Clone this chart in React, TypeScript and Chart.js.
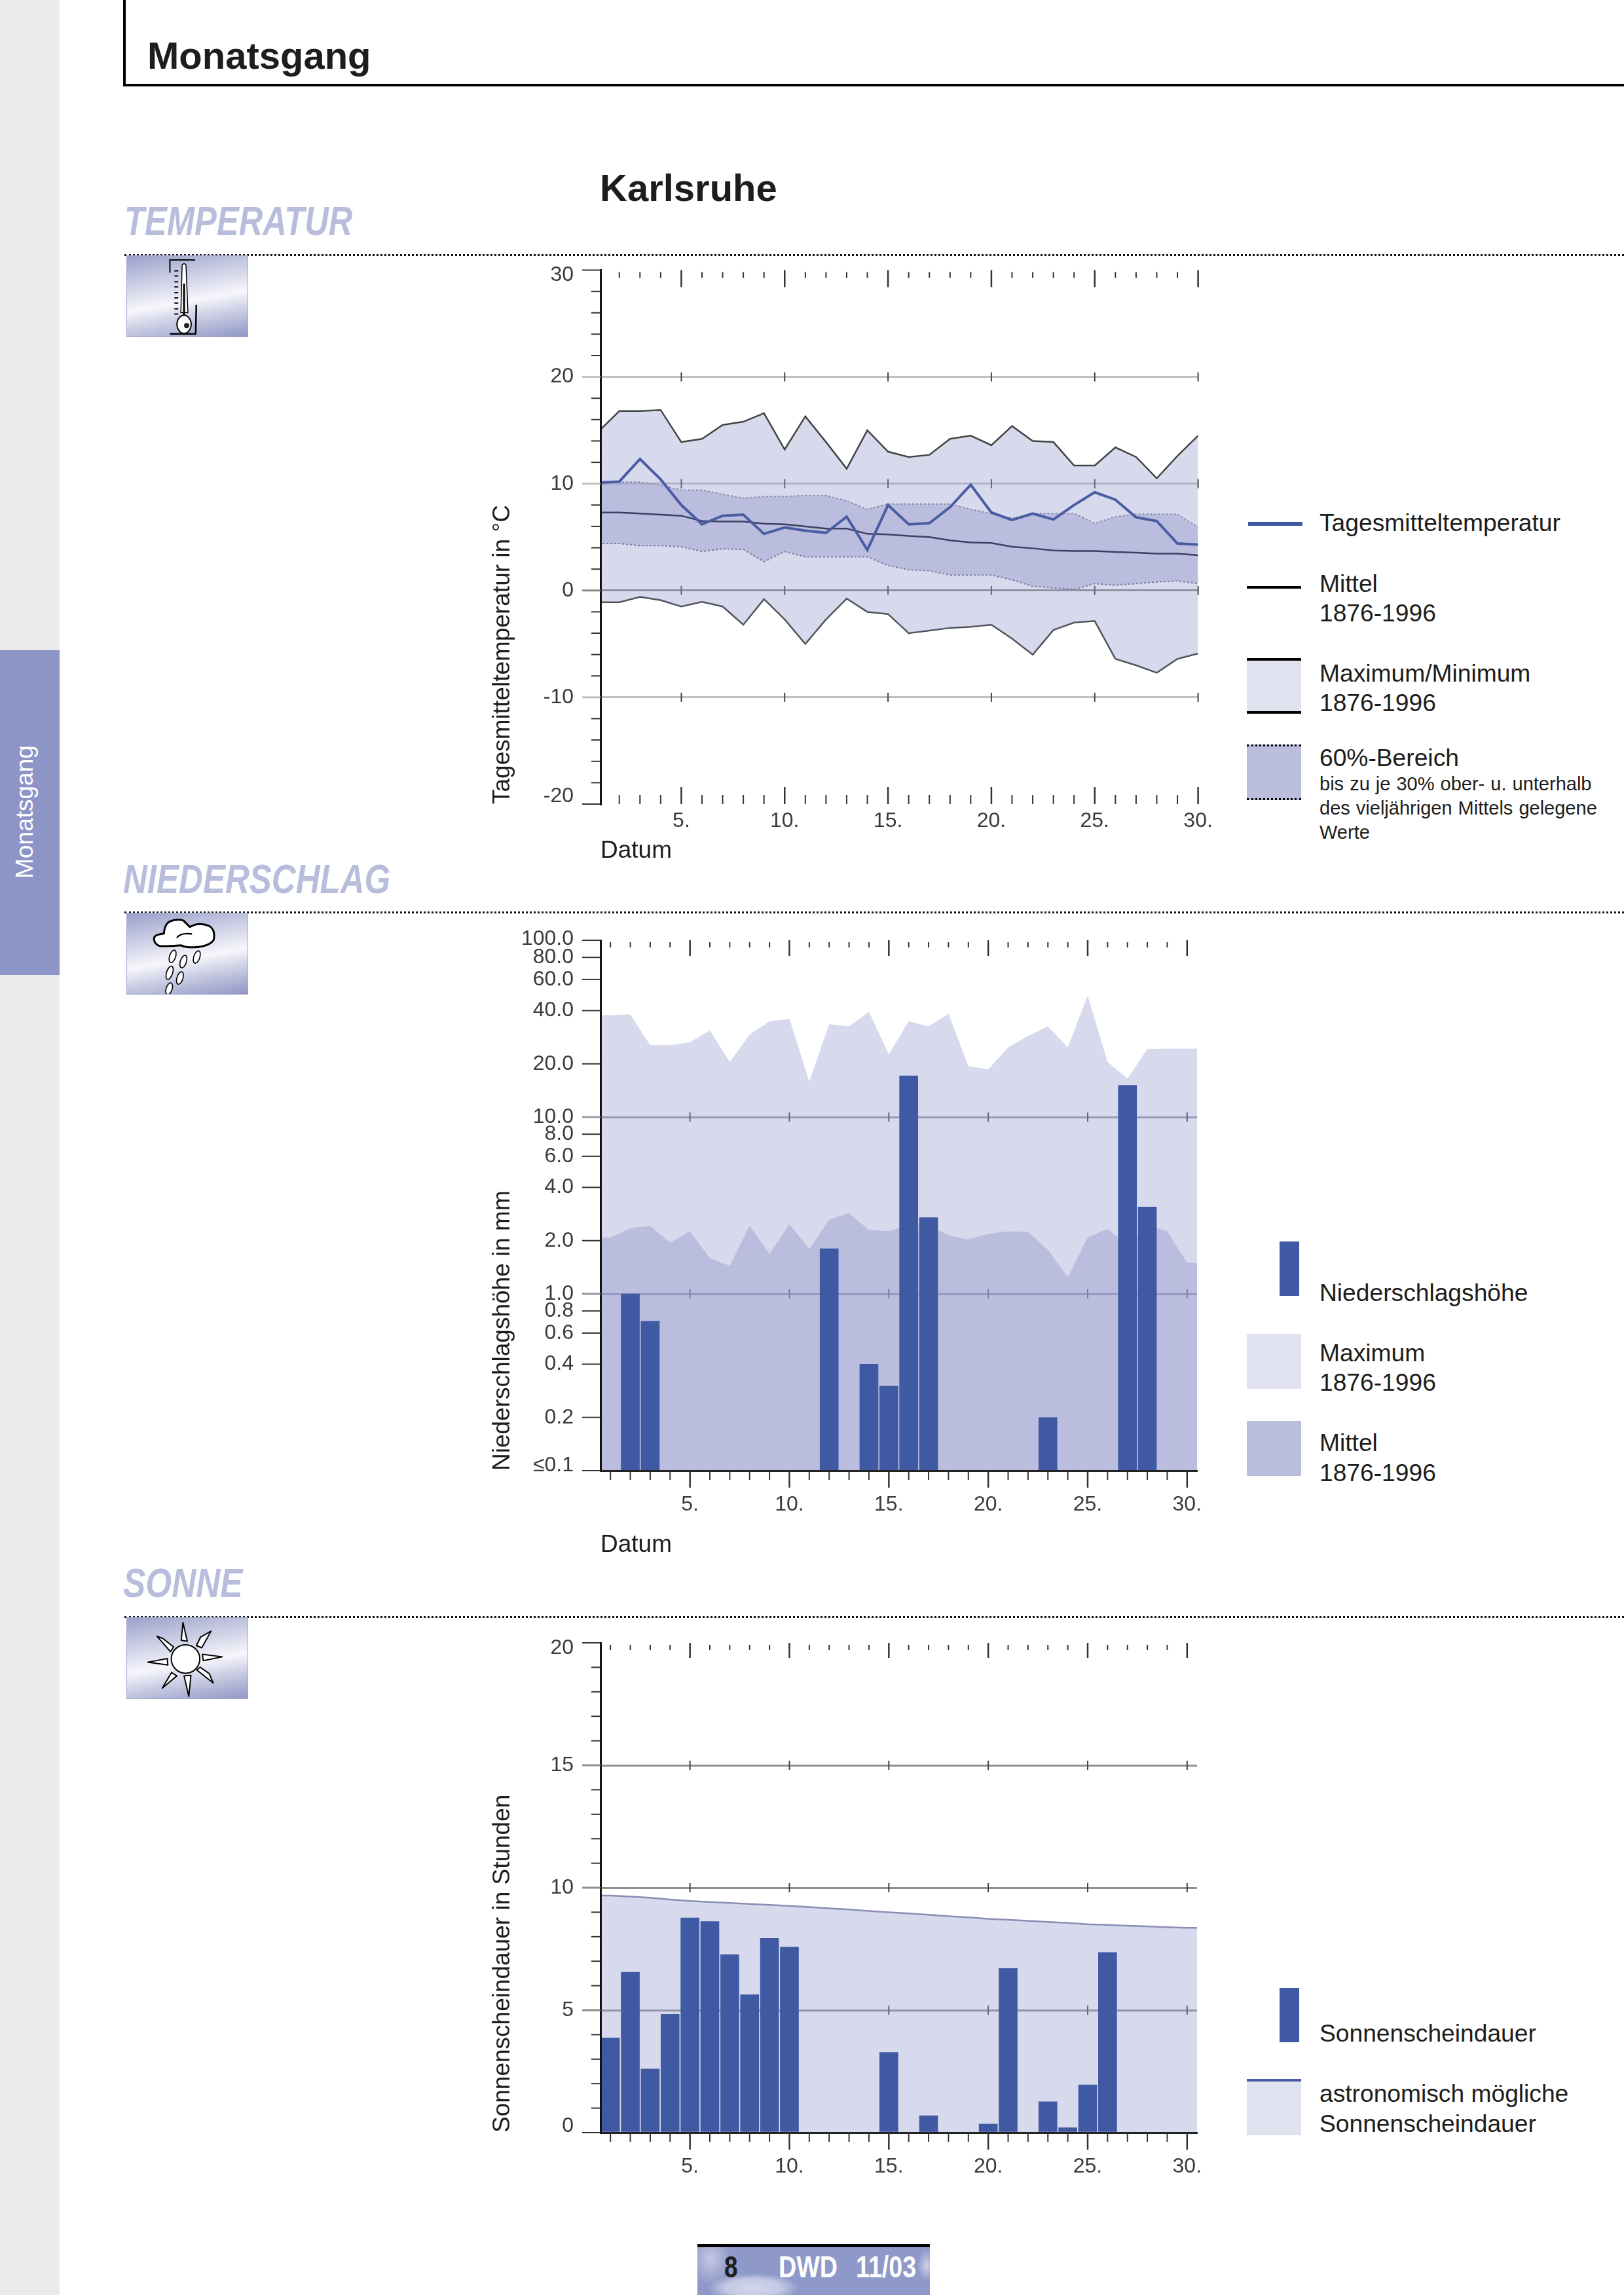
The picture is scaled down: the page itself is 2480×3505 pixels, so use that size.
import React, { useEffect, useRef } from "react";
import { Chart, registerables } from "chart.js";

Chart.register(...registerables);

const FONT = '"Liberation Sans", Arial, sans-serif';
Chart.defaults.font.family = FONT;

// ---------- data ----------
const days = [1,2,3,4,5,6,7,8,9,10,11,12,13,14,15,16,17,18,19,20,21,22,23,24,25,26,27,28,29,30];

const tempDaily = [10.1,10.2,12.3,10.4,8.0,6.2,7.0,7.1,5.3,5.9,5.6,5.4,6.9,3.8,8.0,6.2,6.3,7.8,9.9,7.3,6.6,7.2,6.65,8.0,9.2,8.5,6.85,6.5,4.4,4.3];
const tempMean = [7.3,7.3,7.2,7.1,7.0,6.5,6.45,6.45,6.25,6.2,6.0,5.8,5.8,5.3,5.25,5.1,5.0,4.7,4.5,4.45,4.1,3.95,3.75,3.7,3.7,3.6,3.55,3.45,3.45,3.3];
const tempMax = [14.9,16.8,16.8,16.9,13.9,14.2,15.5,15.8,16.6,13.2,16.3,13.9,11.4,15.0,13.0,12.5,12.7,14.2,14.5,13.6,15.4,14.0,13.9,11.7,11.7,13.4,12.5,10.5,12.6,14.5];
const tempMin = [-1.1,-1.1,-0.6,-0.9,-1.5,-1.05,-1.5,-3.2,-0.8,-2.7,-5.0,-2.7,-0.75,-2.0,-2.2,-4.0,-3.75,-3.5,-3.4,-3.2,-4.5,-6.0,-3.7,-3.0,-2.85,-6.4,-7.0,-7.7,-6.4,-5.9];
const tempP60Upper = [10.15,10.15,10.15,9.85,9.4,9.4,9.0,8.65,8.8,8.8,8.9,8.9,8.4,7.6,8.1,8.1,8.1,8.1,7.6,7.2,6.75,7.2,7.2,7.2,6.3,6.9,7.15,7.15,7.15,5.9];
const tempP60Lower = [4.4,4.4,4.2,4.2,4.1,3.65,3.9,3.85,2.7,3.65,3.15,3.15,3.15,3.15,2.35,1.95,1.85,1.45,1.45,1.45,1.0,0.4,0.25,0.1,0.65,0.5,0.65,0.8,0.9,0.65];
const tempTicks = [-20,-18,-16,-14,-12,-10,-8,-6,-4,-2,0,2,4,6,8,10,12,14,16,18,20,22,24,26,28,30];
const tempGrid = [20,10,0,-10];

const rainDays = [2,3,12,14,15,16,17,23,27,28];
const rainValues = [1.0,0.7,1.8,0.4,0.3,17.1,2.7,0.2,15.1,3.1];
const rainMax = [37.7,38.1,25.5,25.5,26.5,30.9,20.5,29.2,34.8,36,15.8,33.5,32.6,39.4,22.6,34.8,32.6,38.4,19.4,18.6,24.8,28.7,32.6,24.8,48.5,20.5,16.5,24.2,24.4,24.4];
const rainMean = [2.08,2.35,2.43,1.95,2.26,1.59,1.44,2.43,1.68,2.48,1.79,2.62,2.86,2.3,2.26,2.45,2.45,2.14,2.03,2.18,2.26,2.24,1.77,1.24,2.08,2.33,1.87,2.45,2.26,1.5];
const rainTicks = [0.1,0.2,0.4,0.6,0.8,1,2,4,6,8,10,20,40,60,80,100];
const rainGrid = [10,1];

const sunDays = [1,2,3,4,5,6,7,8,9,10,15,17,20,21,23,24,25,26];
const sunValues = [3.87,6.55,2.6,4.83,8.77,8.62,7.27,5.63,7.93,7.58,3.27,0.69,0.35,6.7,1.26,0.2,1.95,7.36];
const sunPossible = [9.68,9.64,9.59,9.52,9.46,9.42,9.38,9.34,9.3,9.26,9.21,9.16,9.11,9.05,9.0,8.95,8.9,8.84,8.79,8.73,8.69,8.65,8.6,8.56,8.51,8.48,8.45,8.42,8.39,8.36];
const sunTicks = [0,1,2,3,4,5,6,7,8,9,10,11,12,13,14,15,16,17,18,19,20];
const sunGrid = [15,10,5];

// ---------- styles ----------
const BLUE = "#3f5aa3";
const AREA_LIGHT = "rgba(150,155,205,0.38)";
const AREA_DARK = "rgba(150,155,205,0.45)";
const TICK_COLOR = "#333333";
const LABEL_COLOR = "#3a3a3a";
const TEXT = "#1d1d1b";

const xy = (xs: number[], ys: number[]) => xs.map((x, i) => ({ x, y: ys[i] }));
const edged = (ys: number[]) =>
  [{ x: 0.5, y: ys[0] }, ...xy(days, ys), { x: 30.5, y: ys[ys.length - 1] }];

type Geo = { left: number; top: number; right: number; bottom: number; cTop: number; cBottom: number };
const CLEFT = 740;
const CRIGHT = 1880;

const tickPlugin = (cfg: {
  yTicks: number[]; yMajor: (v: number) => boolean; grid: number[]; gridColor: (v: number) => string;
  bottomDir: "in" | "out"; topMajor: number; topMinor: number;
}) => ({
  id: "dayTicks",
  beforeDatasetsDraw(chart: any) {
    const { ctx, scales } = chart;
    ctx.save();
    ctx.strokeStyle = "#444";
    ctx.lineWidth = 2;
    for (const g of cfg.grid) {
      const y = scales.y.getPixelForValue(g);
      for (const d of days) {
        if (d % 5) continue;
        const x = scales.x.getPixelForValue(d);
        ctx.beginPath(); ctx.moveTo(x, y - 7); ctx.lineTo(x, y + 7); ctx.stroke();
      }
    }
    ctx.restore();
  },
  afterDraw(chart: any) {
    const { ctx, scales, chartArea: a } = chart;
    ctx.save();
    ctx.strokeStyle = TICK_COLOR;
    for (const d of days) {
      const x = scales.x.getPixelForValue(d);
      if (x < a.left + 1) continue;
      const major = d % 5 === 0;
      ctx.lineWidth = major ? 2.5 : 2;
      ctx.beginPath();
      ctx.moveTo(x, a.top + (major ? 0 : 3));
      ctx.lineTo(x, a.top + (major ? cfg.topMajor : cfg.topMinor));
      ctx.stroke();
      const len = major ? 26 : 14;
      ctx.beginPath();
      if (cfg.bottomDir === "in") { ctx.moveTo(x, a.bottom - len); ctx.lineTo(x, a.bottom); }
      else { ctx.moveTo(x, a.bottom); ctx.lineTo(x, a.bottom + len); }
      ctx.stroke();
    }
    for (const v of cfg.yTicks) {
      const y = scales.y.getPixelForValue(v);
      const major = cfg.yMajor(v);
      ctx.strokeStyle = cfg.grid.includes(v) ? cfg.gridColor(v) : TICK_COLOR;
      ctx.lineWidth = cfg.grid.includes(v) ? 3 : 2;
      ctx.beginPath(); ctx.moveTo(a.left - (major ? 28 : 14), y); ctx.lineTo(a.left, y); ctx.stroke();
    }
    ctx.restore();
  },
});

const xAxis = (geo: Geo, min: number, max: number, title: string | null, padding: number, border: boolean) => ({
  type: "linear",
  min, max,
  offset: false,
  afterBuildTicks: (s: any) => { s.ticks = days.filter(d => d >= min).map(value => ({ value })); },
  afterFit: (s: any) => { s.height = geo.cBottom - geo.bottom; s.paddingLeft = 0; s.paddingRight = 0; },
  grid: { display: false, offset: false, drawTicks: false },
  border: border ? { display: true, color: "#222", width: 3, z: 1 } : { display: false },
  ticks: {
    autoSkip: false, maxRotation: 0, minRotation: 0, padding,
    color: LABEL_COLOR, font: { size: 32 },
    callback: (v: number) => (v % 5 === 0 ? `${v}.` : ""),
  },
  title: title
    ? { display: true, text: title, align: "start", color: TEXT, font: { size: 37 }, padding: { top: 0, bottom: 18 } }
    : { display: false },
});

const yAxis = (geo: Geo, type: string, min: number, max: number, ticks: number[], label: (v: number) => string,
  title: string, grid: number[], gridColor: (v: number) => string, nudge: Record<string, number>) => ({
  type, min, max,
  afterBuildTicks: (s: any) => {
    s.ticks = ticks.map(value => ({ value }));
    s.getPixelForTick = (i: number) => s.getPixelForValue(s.ticks[i].value) + (nudge[String(s.ticks[i].value)] || 0);
  },
  afterFit: (s: any) => { s.width = geo.left - CLEFT; s.paddingTop = 0; s.paddingBottom = 0; },
  grid: {
    drawTicks: false,
    lineWidth: 3,
    color: (c: any) => (c.tick && grid.includes(c.tick.value) ? gridColor(c.tick.value) : "rgba(0,0,0,0)"),
  },
  border: { display: true, color: "#111", width: 3, z: 1 },
  ticks: { autoSkip: false, padding: 41, color: LABEL_COLOR, font: { size: 32 }, callback: label, maxRotation: 0, minRotation: 0 },
  title: { display: true, text: title, align: "start", color: TEXT, font: { size: 37 }, padding: { top: 6, bottom: 0 } },
});

const baseOptions = (geo: Geo, x: any, y: any) => ({
  responsive: false,
  animation: false,
  devicePixelRatio: 1,
  layout: { padding: { left: 0, top: geo.top - geo.cTop, right: CRIGHT - geo.right, bottom: 0 } },
  plugins: { legend: { display: false }, tooltip: { enabled: false } },
  scales: { x, y },
  elements: { point: { radius: 0 }, line: { tension: 0 } },
});

const GEO1: Geo = { left: 917, right: 1829.6, top: 412.5, bottom: 1228, cTop: 380, cBottom: 1340 };
const GEO2: Geo = { left: 917, right: 1828, top: 1436, bottom: 2246, cTop: 1400, cBottom: 2400 };
const GEO3: Geo = { left: 917, right: 1828, top: 2509, bottom: 3257, cTop: 2480, cBottom: 3370 };

const T = ({ x, y, size, children, color = TEXT, bold = false, italic = false, sx = 1, ws = 0, ls = 0 }: any) => (
  <div style={{
    position: "absolute", left: x, top: y - 0.3465 * size, lineHeight: 0, height: 0, fontSize: size, color,
    fontFamily: FONT, fontWeight: bold ? 700 : 400, fontStyle: italic ? "italic" : "normal", whiteSpace: "pre",
    transform: sx !== 1 ? `scaleX(${sx})` : undefined, transformOrigin: "left", wordSpacing: ws, letterSpacing: ls,
  }}>{children}</div>
);

const R = ({ x, y, w, h, bg, style }: any) => (
  <div style={{ position: "absolute", left: x, top: y, width: w, height: h, background: bg, ...style }} />
);

const IconBox = ({ y, viewBox, children }: any) => (
  <div style={{
    position: "absolute", left: 193, top: y, width: 186, height: 125, boxSizing: "border-box",
    border: "1px solid #a3a8cc",
    background: "linear-gradient(170deg,#9ba2cb 0%,#c9cce3 28%,#f6f6fb 55%,#c6c9e1 75%,#8f97c6 100%)",
  }}>
    <svg width="184" height="123" viewBox={viewBox} style={{ display: "block" }}>{children}</svg>
  </div>
);

const sunRay = (d: string, i: number) => <path key={i} d={d} fill="#fff" stroke="#000" strokeWidth="6" strokeLinejoin="round" />;

const SUN_RAYS = [
  "M290 130 L298 48 L318 135 Z",
  "M360 155 L380 115 L428 88 L385 165 Z",
  "M388 195 L480 207 L392 225 Z",
  "M362 268 L378 255 L420 285 L438 328 Z",
  "M303 295 L335 293 L325 390 Z",
  "M202 352 L245 280 L270 295 Z",
  "M225 215 L228 245 L135 232 Z",
  "M178 112 L205 122 L255 162 L240 183 Z",
];

const DROPS = [
  [250, 226, 14, 30, 18], [300, 250, 14, 30, 18], [362, 229, 14, 30, 18],
  [236, 302, 14, 32, 18], [284, 326, 14, 30, 18], [234, 376, 14, 28, 18],
];

export default function App() {
  const c1 = useRef<HTMLCanvasElement>(null);
  const c2 = useRef<HTMLCanvasElement>(null);
  const c3 = useRef<HTMLCanvasElement>(null);

  useEffect(() => {
    const gc1 = (v: number) => (v === 0 ? "#8a8a8a" : "#c0c0c0");
    const gc2 = () => "#9a98a8";
    const gc3 = () => "#8f8f8f";

    const chart1 = new Chart(c1.current!, {
      type: "line",
      data: {
        datasets: [
          { label: "Tagesmitteltemperatur", data: xy(days, tempDaily), borderColor: "#4a5ca3", borderWidth: 4, order: 0, fill: false },
          { label: "Mittel 1876-1996", data: xy(days, tempMean), borderColor: "#3d3f63", borderWidth: 2.5, order: 1, fill: false },
          { label: "60%-Bereich oben", data: xy(days, tempP60Upper), borderColor: "#8a8cab", borderWidth: 2, borderDash: [3, 3], order: 2, fill: { target: 3 }, backgroundColor: AREA_DARK },
          { label: "60%-Bereich unten", data: xy(days, tempP60Lower), borderColor: "#6f7193", borderWidth: 2, borderDash: [3, 3], order: 2, fill: false },
          { label: "Maximum", data: xy(days, tempMax), borderColor: "#444", borderWidth: 2.5, order: 3, fill: { target: 5 }, backgroundColor: AREA_LIGHT },
          { label: "Minimum", data: xy(days, tempMin), borderColor: "#444", borderWidth: 2.5, order: 3, fill: false },
        ],
      },
      options: baseOptions(GEO1,
        xAxis(GEO1, 1.09, 30, "Datum", 7, false),
        yAxis(GEO1, "linear", -20, 30, tempTicks, (v: number) => (v % 10 === 0 ? String(v) : ""),
          "Tagesmitteltemperatur in °C", tempGrid, gc1, { "30": 8, "-20": -12 })) as any,
      plugins: [tickPlugin({ yTicks: tempTicks, yMajor: v => v % 10 === 0, grid: tempGrid, gridColor: gc1, bottomDir: "in", topMajor: 26, topMinor: 12 })],
    } as any);

    const rainLabel = (v: number) => (v === 0.1 ? "≤0.1" : v.toFixed(1));
    const chart2 = new Chart(c2.current!, {
      type: "line",
      data: {
        datasets: [
          { type: "bar", label: "Niederschlagshöhe", data: xy(rainDays, rainValues), backgroundColor: BLUE, barThickness: 28, order: 0 },
          { label: "Mittel 1876-1996", data: edged(rainMean), borderWidth: 0, fill: "start", backgroundColor: AREA_DARK, order: 1 },
          { label: "Maximum 1876-1996", data: edged(rainMax), borderWidth: 0, fill: "start", backgroundColor: AREA_LIGHT, order: 2 },
        ],
      },
      options: baseOptions(GEO2,
        xAxis(GEO2, 0.5, 30.5, "Datum", 33, true),
        yAxis(GEO2, "logarithmic", 0.1, 100, rainTicks, rainLabel, "Niederschlagshöhe in mm", rainGrid, gc2, { "100": -2, "0.1": -8 })) as any,
      plugins: [tickPlugin({ yTicks: rainTicks, yMajor: () => true, grid: rainGrid, gridColor: gc2, bottomDir: "out", topMajor: 24, topMinor: 11 })],
    } as any);

    const chart3 = new Chart(c3.current!, {
      type: "line",
      data: {
        datasets: [
          { type: "bar", label: "Sonnenscheindauer", data: xy(sunDays, sunValues), backgroundColor: BLUE, barThickness: 28, order: 0 },
          { label: "astronomisch mögliche Sonnenscheindauer", data: edged(sunPossible), borderColor: "#8a8db5", borderWidth: 2.5, fill: "start", backgroundColor: AREA_LIGHT, order: 1 },
        ],
      },
      options: baseOptions(GEO3,
        xAxis(GEO3, 0.5, 30.5, null, 33, true),
        yAxis(GEO3, "linear", 0, 20, sunTicks, (v: number) => (v % 5 === 0 ? String(v) : ""),
          "Sonnenscheindauer in Stunden", sunGrid, gc3, { "20": 8, "0": -10 })) as any,
      plugins: [tickPlugin({ yTicks: sunTicks, yMajor: v => v % 5 === 0, grid: sunGrid, gridColor: gc3, bottomDir: "out", topMajor: 23, topMinor: 11 })],
    } as any);

    return () => { chart1.destroy(); chart2.destroy(); chart3.destroy(); };
  }, []);

  const canvas = (ref: any, g: Geo) => (
    <canvas ref={ref} width={CRIGHT - CLEFT} height={g.cBottom - g.cTop}
      style={{ position: "absolute", left: CLEFT, top: g.cTop, width: CRIGHT - CLEFT, height: g.cBottom - g.cTop }} />
  );

  const dotted = (y: number) => (
    <div style={{ position: "absolute", left: 190, right: 0, top: y, height: 0, borderTop: "3px dotted #111" }} />
  );
  const HEAD = "#b9bddc";
  const LS = 37.2;
  const LX = 2015;

  return (
    <div style={{ position: "absolute", left: 0, top: 0, width: 2480, height: 3505, background: "#fff", overflow: "hidden", fontFamily: FONT }}>
      {/* side strip */}
      <R x={0} y={0} w={91} h={3505} bg="#ebebeb" />
      <R x={0} y={993} w={91} h={496} bg="#8d95c7" />
      <div style={{
        position: "absolute", left: 38, top: 1240, color: "#fff", fontSize: 37, lineHeight: 0, whiteSpace: "pre",
        transform: "translate(-50%,-50%) rotate(-90deg)", width: "max-content", height: 0,
      }}>Monatsgang</div>

      {/* header */}
      <R x={188} y={0} w={4} h={131} bg="#000" />
      <R x={188} y={128} w={2292} h={4} bg="#000" />
      <T x={225} y={105} size={58} bold>Monatsgang</T>
      <T x={916} y={307} size={58} bold>Karlsruhe</T>

      {/* sections */}
      <T x={190} y={359} size={63} bold italic sx={0.805} color={HEAD}>TEMPERATUR</T>
      {dotted(388)}
      <IconBox y={390} viewBox="193 390 186 125">
        <path d="M298 396 L259 396 L259 416" fill="none" stroke="#000" strokeWidth="2" />
        <path d="M300 466 L299 511 L259 511" fill="none" stroke="#000" strokeWidth="2.5" />
        <path d="M278 404 Q281 400 284 404 L287 478 L276 478 Z" fill="#fff" stroke="#000" strokeWidth="1.5" />
        <path d="M281 433 L281 484" stroke="#000" strokeWidth="3" />
        <ellipse cx="281" cy="496" rx="11" ry="14" fill="#fff" stroke="#000" strokeWidth="2" />
        <ellipse cx="285" cy="498" rx="4" ry="4" fill="#222" />
        {[413,421,430,438,447,455,463,472,480].map(y => <path key={y} d={`M266 ${y} L272 ${y}`} stroke="#000" strokeWidth="2" />)}
      </IconBox>

      <T x={188} y={1364} size={63} bold italic sx={0.81} color={HEAD}>NIEDERSCHLAG</T>
      {dotted(1392)}
      <IconBox y={1394} viewBox="39 27 558 373">
        <path d="M165 140 Q165 125 210 120 Q212 80 235 65 Q270 50 300 60 L330 90 Q370 65 420 85 Q450 105 440 150 Q420 180 350 184 Q310 185 290 175 Q240 180 190 178 Q160 165 165 140 Z"
          fill="#fff" stroke="#000" strokeWidth="9" strokeLinejoin="round" />
        <path d="M270 140 Q285 115 340 122" fill="none" stroke="#000" strokeWidth="7" />
        {DROPS.map(([cx, cy, rx, ry, a], i) => (
          <ellipse key={i} cx={cx} cy={cy} rx={rx} ry={ry} transform={`rotate(${a} ${cx} ${cy})`} fill="#fff" stroke="#000" strokeWidth="5" />
        ))}
      </IconBox>

      <T x={188} y={2439} size={63} bold italic sx={0.815} color={HEAD}>SONNE</T>
      {dotted(2468)}
      <IconBox y={2470} viewBox="39 27 558 373">
        <ellipse cx="310" cy="217" rx="66" ry="66" fill="#fff" stroke="#000" strokeWidth="6" />
        {SUN_RAYS.map(sunRay)}
      </IconBox>

      {canvas(c1, GEO1)}
      {canvas(c2, GEO2)}
      {canvas(c3, GEO3)}

      {/* legend 1 */}
      <R x={1906} y={797} w={83} h={6} bg={BLUE} />
      <T x={LX} y={811} size={LS}>Tagesmitteltemperatur</T>
      <R x={1904} y={895} w={83} h={4} bg="#000" />
      <T x={LX} y={904} size={LS}>Mittel</T>
      <T x={LX} y={949} size={LS}>1876-1996</T>
      <R x={1904} y={1005} w={83} h={85} bg="#e1e2ef" style={{ borderTop: "4px solid #000", borderBottom: "4px solid #000", boxSizing: "border-box" }} />
      <T x={LX} y={1041} size={LS}>Maximum/Minimum</T>
      <T x={LX} y={1086} size={LS}>1876-1996</T>
      <R x={1904} y={1137} w={83} h={85} bg="#babddb" style={{ borderTop: "3px dotted #000", borderBottom: "3px dotted #000", boxSizing: "border-box" }} />
      <T x={LX} y={1170} size={LS}>60%-Bereich</T>
      <T x={LX} y={1207} size={29} ws={1}>bis zu je 30% ober- u. unterhalb</T>
      <T x={LX} y={1244} size={29} ws={1}>des vieljährigen Mittels gelegene</T>
      <T x={LX} y={1281} size={29}>Werte</T>

      {/* legend 2 */}
      <R x={1954} y={1896} w={30} h={83} bg={BLUE} />
      <T x={LX} y={1987} size={LS}>Niederschlagshöhe</T>
      <R x={1904} y={2037} w={83} h={84} bg="#e1e2ef" />
      <T x={LX} y={2079} size={LS}>Maximum</T>
      <T x={LX} y={2124} size={LS}>1876-1996</T>
      <R x={1904} y={2170} w={83} h={84} bg="#babddb" />
      <T x={LX} y={2216} size={LS}>Mittel</T>
      <T x={LX} y={2262} size={LS}>1876-1996</T>

      {/* legend 3 */}
      <R x={1954} y={3036} w={30} h={83} bg={BLUE} />
      <T x={LX} y={3118} size={LS}>Sonnenscheindauer</T>
      <R x={1904} y={3175} w={83} h={86} bg="#e1e2ef" style={{ borderTop: "4px solid #4a5ca5", boxSizing: "border-box" }} />
      <T x={LX} y={3210} size={LS}>astronomisch mögliche</T>
      <T x={LX} y={3256} size={LS}>Sonnenscheindauer</T>

      {/* footer */}
      <R x={1065} y={3427} w={355} h={5} bg="#000" />
      <div style={{
        position: "absolute", left: 1065, top: 3432, width: 355, height: 73,
        background: "radial-gradient(ellipse 70px 22px at 85px 62px,#d2d6ec 0%,#c4c9e4 60%,rgba(196,201,228,0) 100%), radial-gradient(ellipse 30px 40px at 20px 18px,#c4c9e4 0%,rgba(196,201,228,0) 100%), radial-gradient(ellipse 14px 24px at 350px 28px,#cdd1e8 0%,rgba(205,209,232,0) 100%), #8f99c9",
      }} />
      <T x={1106} y={3478} size={46} bold sx={0.8} color="#1d1d1b">8</T>
      <T x={1189} y={3478} size={46} bold sx={0.82} color="#fff">DWD</T>
      <T x={1307} y={3478} size={46} bold sx={0.82} color="#fff">11/03</T>
    </div>
  );
}
